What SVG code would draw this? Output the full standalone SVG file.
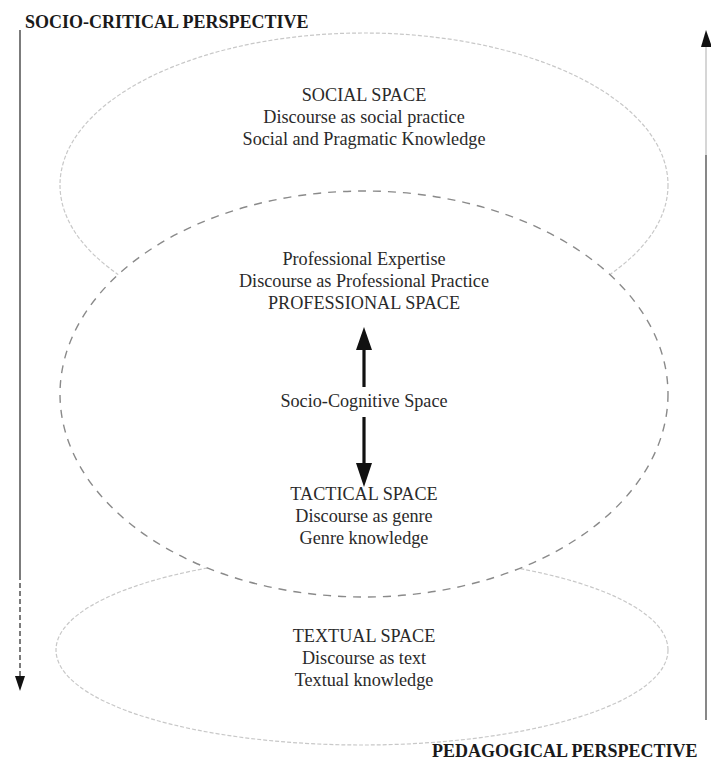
<svg xmlns="http://www.w3.org/2000/svg" width="711" height="767" viewBox="0 0 711 767">
<style>
  .t{font-family:"Liberation Serif","Times New Roman",serif;font-size:18.2px;fill:#2a2a2a;text-anchor:middle}
  .h{font-family:"Liberation Serif","Times New Roman",serif;font-size:18px;font-weight:bold;fill:#1a1a1a}
  .faint{fill:none;stroke:#c8c8c8;stroke-width:1.2;stroke-dasharray:4 2}
  .dash{fill:#fff;stroke:#8a8a8a;stroke-width:1.4;stroke-dasharray:8 7}
</style>
<rect width="711" height="767" fill="#fff"/>
<g id="social-space">
  <ellipse class="faint" cx="364" cy="185" rx="304" ry="152"/>
</g>
<g id="textual-space">
  <ellipse class="faint" cx="362" cy="650" rx="306" ry="95"/>
</g>
<g id="professional-space">
  <ellipse class="dash" cx="364" cy="394" rx="304" ry="203"/>
</g>
<g id="social-text">
  <text class="t" x="364" y="101">SOCIAL SPACE</text>
  <text class="t" x="364" y="123">Discourse as social practice</text>
  <text class="t" x="364" y="145">Social and Pragmatic Knowledge</text>
</g>
<g id="professional-text">
  <text class="t" x="364" y="265">Professional Expertise</text>
  <text class="t" x="364" y="287">Discourse as Professional Practice</text>
  <text class="t" x="364" y="309">PROFESSIONAL SPACE</text>
</g>
<g id="socio-cognitive">
  <text class="t" x="364" y="407">Socio-Cognitive Space</text>
</g>
<g id="tactical-text">
  <text class="t" x="364" y="500">TACTICAL SPACE</text>
  <text class="t" x="364" y="522">Discourse as genre</text>
  <text class="t" x="364" y="544">Genre knowledge</text>
</g>
<g id="textual-text">
  <text class="t" x="364" y="642">TEXTUAL SPACE</text>
  <text class="t" x="364" y="664">Discourse as text</text>
  <text class="t" x="364" y="686">Textual knowledge</text>
</g>
<g id="labels">
  <text class="h" x="25" y="28">SOCIO-CRITICAL PERSPECTIVE</text>
  <text class="h" x="432" y="757">PEDAGOGICAL PERSPECTIVE</text>
</g>
<g id="connectors">
  <line x1="364" y1="387" x2="364" y2="348" stroke="#111" stroke-width="3.2"/>
  <polygon points="356,350 372,350 364,327" fill="#111"/>
  <line x1="364" y1="417" x2="364" y2="465" stroke="#111" stroke-width="3.2"/>
  <polygon points="356,463 372,463 364,487" fill="#111"/>
  <line x1="20" y1="30" x2="20" y2="575" stroke="#444" stroke-width="1.4"/>
  <line x1="20" y1="575" x2="20" y2="676" stroke="#444" stroke-width="1.4" stroke-dasharray="5 3"/>
  <polygon points="15,676 25,676 20,691" fill="#111"/>
  <polygon points="701,47 712,47 706,30" fill="#111"/>
  <line x1="706" y1="47" x2="706" y2="155" stroke="#bbb" stroke-width="1.2"/>
  <line x1="706" y1="155" x2="706" y2="720" stroke="#555" stroke-width="1.4"/>
</g>
</svg>
